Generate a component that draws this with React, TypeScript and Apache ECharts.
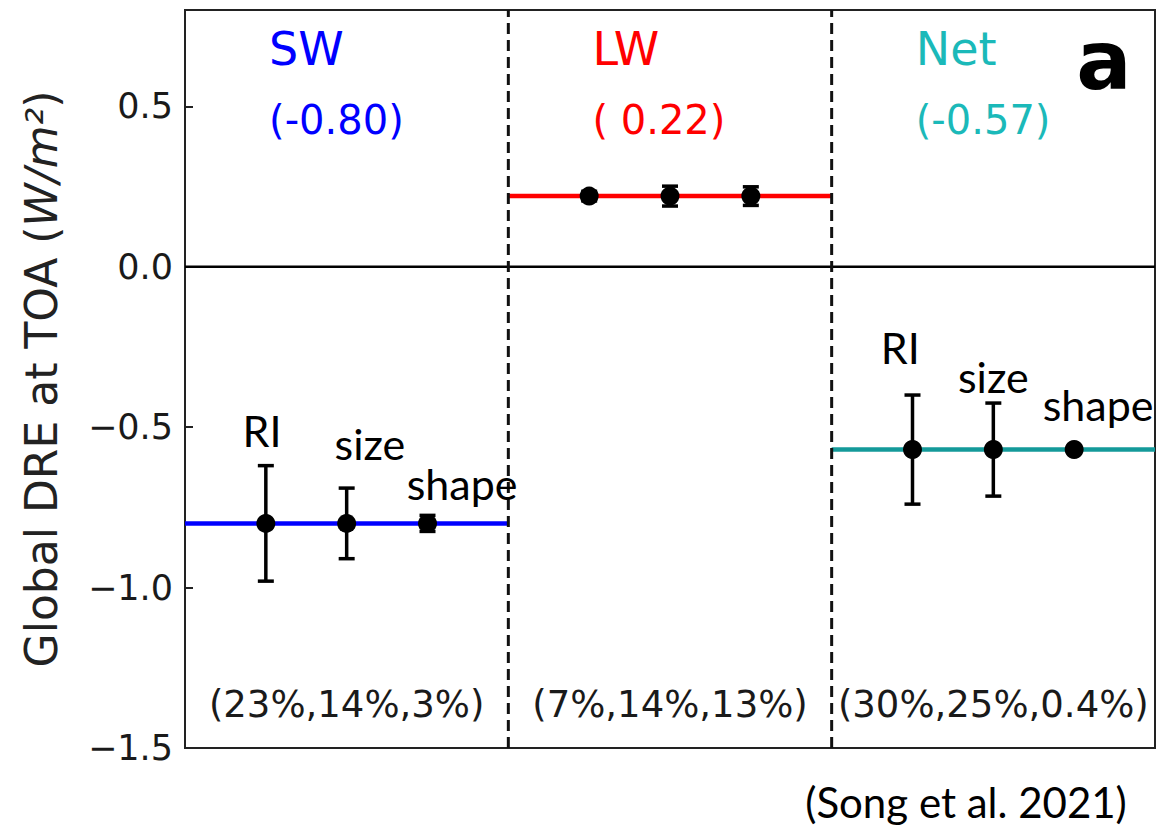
import React, { useEffect, useRef } from 'react';
import * as echarts from 'echarts';

// ---- data ----
const groups = ['SW', 'LW', 'Net'];
const groupMeans = [-0.8, 0.22, -0.57];
const factors = ['RI', 'size', 'shape'];
const factorOffsets = [0.25, 0.5, 0.75];
const swErr = [0.18, 0.11, 0.025];
const lwErr = [0.015, 0.031, 0.029];
const netErr = [0.17, 0.145, 0.003];
const pctLabels = ['(23%,14%,3%)', '(7%,14%,13%)', '(30%,25%,0.4%)'];
const yTicks = [-1.5, -1.0, -0.5, 0.0, 0.5];
const yMin = -1.5;
const yMax = 0.8;

// annotation anchors (data coordinates)
const swFactorLabelAt = [[0.238, -0.512], [0.572, -0.552], [0.857, -0.677]];
const netFactorLabelAt = [[2.212, -0.253], [2.5, -0.343], [2.824, -0.428]];
const headerY = 0.68;
const meanTextY = 0.456;
const pctY = -1.364;

// ---- styles ----
const groupColors = ['#0000ff', '#ff0000', '#149a9a'];
const groupTextColors = ['#0000ff', '#ff0000', '#1bb9b9'];

export default function App() {
  const ref = useRef<HTMLDivElement>(null);
  useEffect(() => {
    if (!ref.current) return;
    const chart = echarts.init(ref.current, undefined, { renderer: 'svg' });
    const errs = [swErr, lwErr, netErr];

    const errData: number[][] = [];
    const pointData: number[][] = [];
    groups.forEach((g, gi) => {
      factors.forEach((f, fi) => {
        const x = gi + factorOffsets[fi];
        errData.push([x, groupMeans[gi], errs[gi][fi]]);
        pointData.push([x, groupMeans[gi]]);
      });
    });

    const meanLines = groups.map((g, gi) => ({
      type: 'line',
      data: [[gi, groupMeans[gi]], [gi + 1, groupMeans[gi]]],
      symbol: 'none',
      lineStyle: { color: groupColors[gi], width: 4.5 },
      z: 3,
      silent: true,
    }));

    const dashed = [1, 2].map((x) => ({
      type: 'line',
      data: [[x, yMin], [x, yMax]],
      symbol: 'none',
      lineStyle: { color: '#111', width: 3, type: [11, 6] },
      z: 4,
      silent: true,
    }));

    const fontDV = 'DejaVu Sans';
    const headerData: any[] = [];
    groups.forEach((g, gi) => {
      headerData.push({
        value: [gi + 0.26, headerY],
        label: { formatter: g, color: groupTextColors[gi], fontSize: 46 },
      });
      const m = groupMeans[gi];
      const s = m < 0 ? m.toFixed(2) : ' ' + m.toFixed(2);
      headerData.push({
        value: [gi + 0.26, meanTextY],
        label: { formatter: '(' + s + ')', color: groupTextColors[gi], fontSize: 40 },
      });
    });

    const factorLabelData: any[] = [];
    [swFactorLabelAt, netFactorLabelAt].forEach((arr) => {
      arr.forEach((p, i) => {
        factorLabelData.push({ value: p, label: { formatter: factors[i] } });
      });
    });

    const pctData = pctLabels.map((t, i) => ({
      value: [i + 0.5, pctY],
      label: { formatter: t },
    }));

    const opaque = { opacity: 1 };

    chart.setOption({
      animation: false,
      grid: {
        left: 185,
        right: 4,
        top: 10,
        bottom: 79,
        show: true,
        borderColor: '#222',
        borderWidth: 2,
        backgroundColor: '#fff',
      },
      xAxis: {
        type: 'value',
        min: 0,
        max: 3,
        show: false,
      },
      yAxis: {
        type: 'value',
        min: yMin,
        max: yMax,
        name: 'Global DRE at TOA ({i|W/m²})',
        nameLocation: 'middle',
        nameRotate: 90,
        nameGap: 122,
        nameTextStyle: {
          fontFamily: fontDV,
          fontSize: 44,
          color: '#222',
          rich: { i: { fontFamily: fontDV, fontSize: 44, fontStyle: 'italic', color: '#222' } },
        },
        axisLine: { show: false },
        splitLine: { show: false },
        axisTick: {
          show: true,
          inside: true,
          length: 8,
          customValues: yTicks,
          lineStyle: { color: '#222', width: 2 },
        },
        axisLabel: {
          customValues: yTicks,
          margin: 12,
          fontFamily: fontDV,
          fontSize: 35,
          color: '#1a1a1a',
          formatter: (v: number) => (v < 0 ? '\u2212' + Math.abs(v).toFixed(1) : v.toFixed(1)),
        },
      },
      series: [
        {
          type: 'line',
          data: [[0, 0], [3, 0]],
          symbol: 'none',
          lineStyle: { color: '#000', width: 2.5 },
          z: 2,
          silent: true,
        },
        ...meanLines,
        ...dashed,
        {
          type: 'custom',
          data: errData,
          encode: { x: 0, y: 1 },
          z: 5,
          renderItem: (params: any, api: any) => {
            const x = api.value(0);
            const y = api.value(1);
            const e = api.value(2);
            const top = api.coord([x, y + e]);
            const bot = api.coord([x, y - e]);
            const hw = 8;
            const st = { stroke: '#000', lineWidth: 3.5 };
            return {
              type: 'group',
              children: [
                { type: 'line', shape: { x1: top[0], y1: top[1], x2: bot[0], y2: bot[1] }, style: st },
                { type: 'line', shape: { x1: top[0] - hw, y1: top[1], x2: top[0] + hw, y2: top[1] }, style: st },
                { type: 'line', shape: { x1: bot[0] - hw, y1: bot[1], x2: bot[0] + hw, y2: bot[1] }, style: st },
              ],
            };
          },
        },
        {
          type: 'scatter',
          data: pointData,
          symbol: 'circle',
          symbolSize: 19,
          itemStyle: { color: '#000', opacity: 1 },
          z: 6,
          silent: true,
        },
        {
          type: 'scatter',
          data: headerData,
          symbolSize: 0,
          silent: true,
          z: 7,
          itemStyle: opaque,
          label: {
            show: true,
            position: [0, 0],
            align: 'left',
            verticalAlign: 'middle',
            fontFamily: fontDV,
            opacity: 1,
          },
        },
        {
          type: 'scatter',
          data: factorLabelData,
          symbolSize: 0,
          silent: true,
          z: 7,
          itemStyle: opaque,
          label: {
            show: true,
            position: [0, 0],
            align: 'center',
            verticalAlign: 'middle',
            fontFamily: 'Lato',
            fontSize: 43,
            color: '#000',
            opacity: 1,
          },
        },
        {
          type: 'scatter',
          data: pctData,
          symbolSize: 0,
          silent: true,
          z: 7,
          itemStyle: opaque,
          label: {
            show: true,
            position: [0, 0],
            align: 'center',
            verticalAlign: 'middle',
            fontFamily: fontDV,
            fontSize: 37,
            color: '#1a1a1a',
            opacity: 1,
          },
        },
      ],
      graphic: [
        {
          type: 'text',
          x: 1104,
          y: 60,
          style: {
            text: 'a',
            font: 'bold 82px "DejaVu Sans"',
            fill: '#000',
            align: 'center',
            verticalAlign: 'middle',
          },
        },
        {
          type: 'text',
          x: 966,
          y: 802,
          style: {
            text: '(Song et al. 2021)',
            font: '42px Lato',
            fill: '#000',
            align: 'center',
            verticalAlign: 'middle',
          },
        },
      ],
    });
    return () => chart.dispose();
  }, []);
  return (
    <div
      ref={ref}
      style={{ position: 'absolute', left: 0, top: 0, width: 1159, height: 827, background: '#fff' }}
    />
  );
}
